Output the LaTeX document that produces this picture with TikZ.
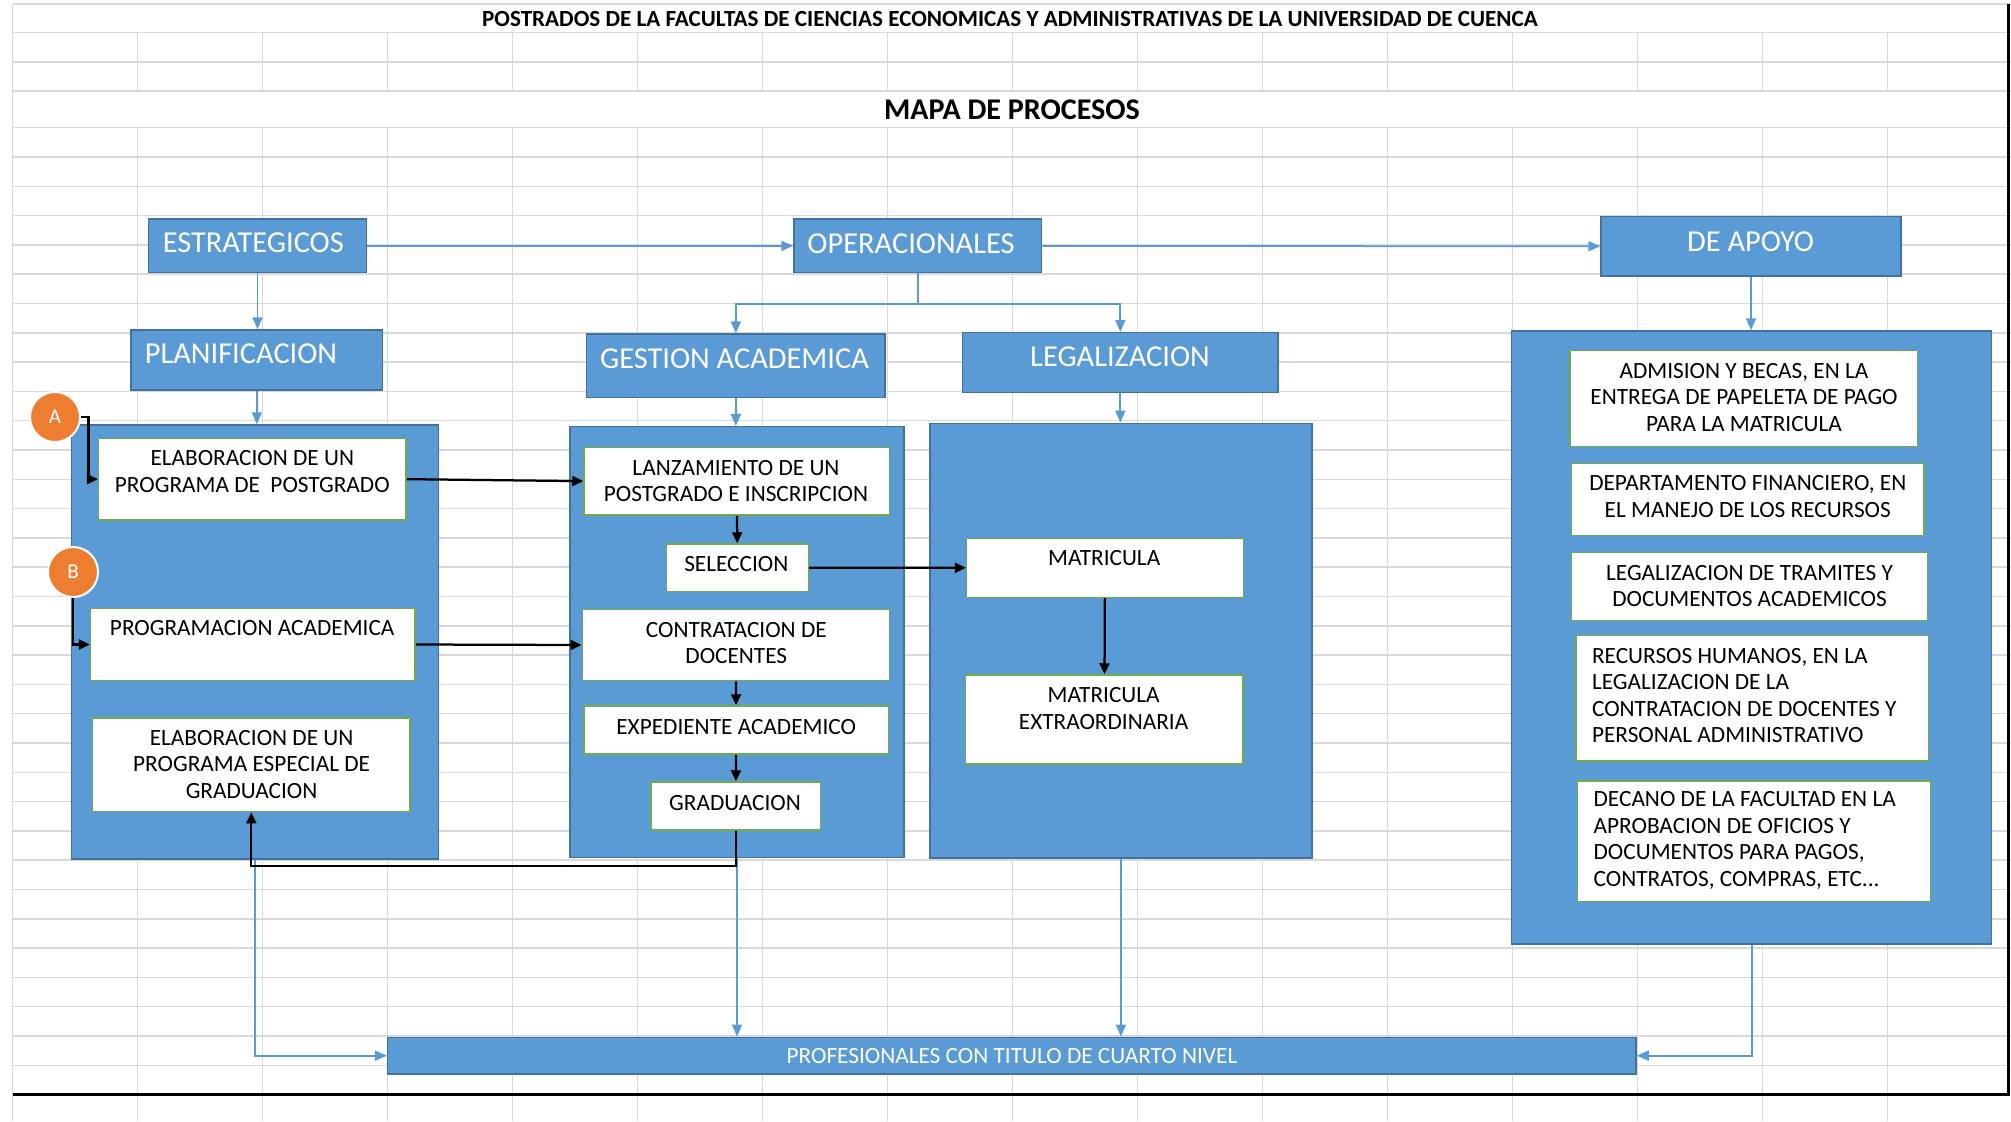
\documentclass[tikz,border=0pt]{standalone}
\usepackage{fontspec}
\setmainfont{Carlito}
\usetikzlibrary{arrows.meta,positioning}

\definecolor{gridgray}{RGB}{217,217,217}
\definecolor{shapeblue}{RGB}{91,155,213}
\definecolor{edgeblue}{RGB}{65,113,156}
\definecolor{linkblue}{RGB}{91,155,213}
\definecolor{edgegreen}{RGB}{112,173,71}
\definecolor{dotorange}{RGB}{237,125,49}

\tikzset{
  dims/.style 2 args={minimum width=#1*0.2mm, minimum height=#2*0.2mm},
  gridline/.style={draw=gridgray, line width=0.3mm},
  process/.style={draw=edgeblue, fill=shapeblue, line width=0.3mm, inner sep=0pt},
  task/.style={draw=edgegreen, fill=white, line width=0.3mm, inner sep=0pt},
  headtext/.style={text=white, inner sep=0pt, font=\fontsize{17.3pt}{20pt}\selectfont},
  tasktext/.style={inner sep=0pt, align=center, font=\fontsize{13.25pt}{15.1pt}\selectfont},
  marker/.style={circle, fill=dotorange, draw=white, line width=0.4mm, minimum size=10mm,
    inner sep=0pt, text=white, font=\fontsize{12pt}{14pt}\selectfont},
  flow/.style={draw=linkblue, line width=0.35mm, -{Triangle[length=2.4mm,width=2mm]}},
  link/.style={draw=black, line width=0.45mm, -{Triangle[length=2.2mm,width=2mm]}},
}

\begin{document}
\begin{tikzpicture}[x=0.2mm, y=-0.2mm]
  \fill[white] (0,0) rectangle (2011,1121);
  \useasboundingbox (0,0) rectangle (2011,1121);

  % sheet grid
  \foreach \y in {4,32.7,62,91,127.7}
    \draw[gridline] (12.7,\y) -- (2011,\y);
  \foreach \k in {1,...,33}
    \draw[gridline] (12.7,127.7+29.3*\k) -- (2011,127.7+29.3*\k);
  \draw[gridline] (12.7,4) -- (12.7,1121);
  \foreach \k in {0,...,14} {
    \draw[gridline] (137.3+125*\k,32.7) -- (137.3+125*\k,91);
    \draw[gridline] (137.3+125*\k,127.7) -- (137.3+125*\k,1121);
  }
  \draw[line width=0.6mm] (12.7,1094) -- (2008,1094) -- (2008,4);

  \node[inner sep=0pt, font=\bfseries\fontsize{13.15pt}{15pt}\selectfont] (title) at (1010,19)
    {POSTRADOS DE LA FACULTAS DE CIENCIAS ECONOMICAS Y ADMINISTRATIVAS DE LA UNIVERSIDAD DE CUENCA};
  \node[inner sep=0pt, font=\bfseries\fontsize{17.1pt}{19pt}\selectfont] (mapa) at (1012,109.5)
    {MAPA DE PROCESOS};

  % process headers
  \node[process, dims={218.4}{53.7}] (estr) at (257.5,245.85) {};
  \node[process, dims={247.7}{53.7}] (oper) at (917.85,245.85) {};
  \node[process, dims={300}{59.3}] (apoyo) at (1751,246.35) {};
  \node[process, dims={251.7}{60}] (planif) at (256.85,360) {};
  \node[process, dims={298.3}{63.3}] (gest) at (735.85,365.65) {};
  \node[process, dims={315.3}{60}] (legal) at (1120.35,362.7) {};
  \node[headtext] (estr-t) at (253.3,242.7) {ESTRATEGICOS};
  \node[headtext] (oper-t) at (911,243.3) {OPERACIONALES};
  \node[headtext] (apoyo-t) at (1750.6,241.7) {DE APOYO};
  \node[headtext] (planif-t) at (241,354) {PLANIFICACION};
  \node[headtext] (gest-t) at (734.5,358.3) {GESTION ACADEMICA};
  \node[headtext] (legal-t) at (1120,356.7) {LEGALIZACION};

  % containers
  \node[process, dims={367}{434}] (plancont) at (255.2,642) {};
  \node[process, dims={334}{431}] (gestcont) at (737,642.2) {};
  \node[process, dims={382.2}{434.7}] (legcont) at (1120.9,640.65) {};
  \node[process, dims={480}{613}] (apcont) at (1751.7,637.5) {};
  \node[process, dims={1248.3}{36.7}] (prof) at (1011.85,1055.65) {};
  \node[tasktext, text=white] (prof-t) at (1012,1056) {PROFESIONALES CON TITULO DE CUARTO NIVEL};

  % planificacion
  \node[task, dims={307.3}{81.7}] (elabpos) at (252.35,479.15) {};
  \node[task, dims={324.3}{72.4}] (prog) at (252.85,644.5) {};
  \node[task, dims={317.3}{93.7}] (elabgrad) at (251.35,764.85) {};
  \node[tasktext] (elabpos-t) at (252.3,471.5) {ELABORACION DE UN\\PROGRAMA DE~ POSTGRADO};
  \node[tasktext] (prog-t) at (252.2,628.3) {PROGRAMACION ACADEMICA};
  \node[tasktext] (elabgrad-t) at (251.6,764.3) {ELABORACION DE UN\\PROGRAMA ESPECIAL DE\\GRADUACION};

  % gestion academica
  \node[task, dims={305.3}{67.7}] (lanz) at (736.65,481.15) {};
  \node[task, dims={141.6}{47.7}] (selec) at (737.5,567.85) {};
  \node[task, dims={307}{71.4}] (contrat) at (735.8,645) {};
  \node[task, dims={304.3}{48}] (exped) at (736.15,730) {};
  \node[task, dims={169.7}{48}] (grad) at (735.85,806) {};
  \node[tasktext] (lanz-t) at (736,480.8) {LANZAMIENTO DE UN\\POSTGRADO E INSCRIPCION};
  \node[tasktext] (selec-t) at (736.3,564.3) {SELECCION};
  \node[tasktext] (contrat-t) at (736.3,643) {CONTRATACION DE\\DOCENTES};
  \node[tasktext] (exped-t) at (736.2,726.7) {EXPEDIENTE ACADEMICO};
  \node[tasktext] (grad-t) at (735,802.7) {GRADUACION};

  % legalizacion
  \node[task, dims={276.6}{59}] (matric) at (1105,567.8) {};
  \node[task, dims={277.3}{89}] (matext) at (1104.35,719.5) {};
  \node[tasktext] (matric-t) at (1104.2,558.3) {MATRICULA};
  \node[tasktext] (matext-t) at (1103.6,708.7) {MATRICULA\\EXTRAORDINARIA};

  % de apoyo
  \node[task, dims={347.7}{96}] (admis) at (1743.85,398.7) {};
  \node[task, dims={352.3}{72.4}] (depto) at (1747.85,499.5) {};
  \node[task, dims={355.6}{68.4}] (legtram) at (1749.5,586.5) {};
  \node[task, dims={352.7}{125.3}] (rrhh) at (1752.35,698.35) {};
  \node[task, dims={353}{120.7}] (decano) at (1754.2,841.35) {};
  \node[tasktext] (admis-t) at (1744,397.2) {ADMISION Y BECAS, EN LA\\ENTREGA DE PAPELETA DE PAGO\\PARA LA MATRICULA};
  \node[tasktext] (depto-t) at (1747.8,496.7) {DEPARTAMENTO FINANCIERO, EN\\EL MANEJO DE LOS RECURSOS};
  \node[tasktext] (legtram-t) at (1749.5,585.8) {LEGALIZACION DE TRAMITES Y\\DOCUMENTOS ACADEMICOS};
  \node[tasktext, align=left, anchor=west] (rrhh-t) at (1591.7,695.7)
    {RECURSOS HUMANOS, EN LA\\LEGALIZACION DE LA\\CONTRATACION DE DOCENTES Y\\PERSONAL ADMINISTRATIVO};
  \node[tasktext, align=left, anchor=west] (decano-t) at (1593.3,840.2)
    {DECANO DE LA FACULTAD EN LA\\APROBACION DE OFICIOS Y\\DOCUMENTOS PARA PAGOS,\\CONTRATOS, COMPRAS, ETC...};

  \node[marker] (ptA) at (55,417) {A};
  \node[marker] (ptB) at (73,572) {B};

  % blue flow
  \draw[flow] (estr) -- (oper);
  \draw[flow] (oper) -- (apoyo);
  \draw[flow] (estr.south) -- (estr.south |- planif.north);
  \draw[flow] (planif.south) -- (planif.south |- plancont.north);
  \draw[flow] (oper.south) -- ++(0,30.6) coordinate (split) -| (gest.north);
  \draw[flow] (split) -| (legal.north);
  \draw[flow] (gest.south) -- (gest.south |- gestcont.north);
  \draw[flow] (legal.south) -- (legal.south |- legcont.north);
  \draw[flow] (apoyo.south) -- (apoyo.south |- apcont.north);
  \draw[flow] (plancont.south) |- (prof.west);
  \draw[flow] (gestcont.south) -- (gestcont.south |- prof.north);
  \draw[flow] (legcont.south) -- (legcont.south |- prof.north);
  \draw[flow] (apcont.south) |- (prof.east);

  % black links
  \draw[link] (ptA.east) -| ([xshift=-1.9mm]elabpos.west) -- (elabpos.west);
  \draw[link] (ptB.south) |- (prog.west);
  \draw[link] (elabpos.east) -- (lanz.west);
  \draw[link] (prog.east) -- (contrat.west);
  \draw[link] (lanz) -- (selec);
  \draw[link] (selec) -- (matric);
  \draw[link] (contrat) -- (exped);
  \draw[link] (exped) -- (grad);
  \draw[link] (matric) -- (matext);
  \draw[link] (grad.south) -- ++(0,35) -| (elabgrad.south);
\end{tikzpicture}
\end{document}
